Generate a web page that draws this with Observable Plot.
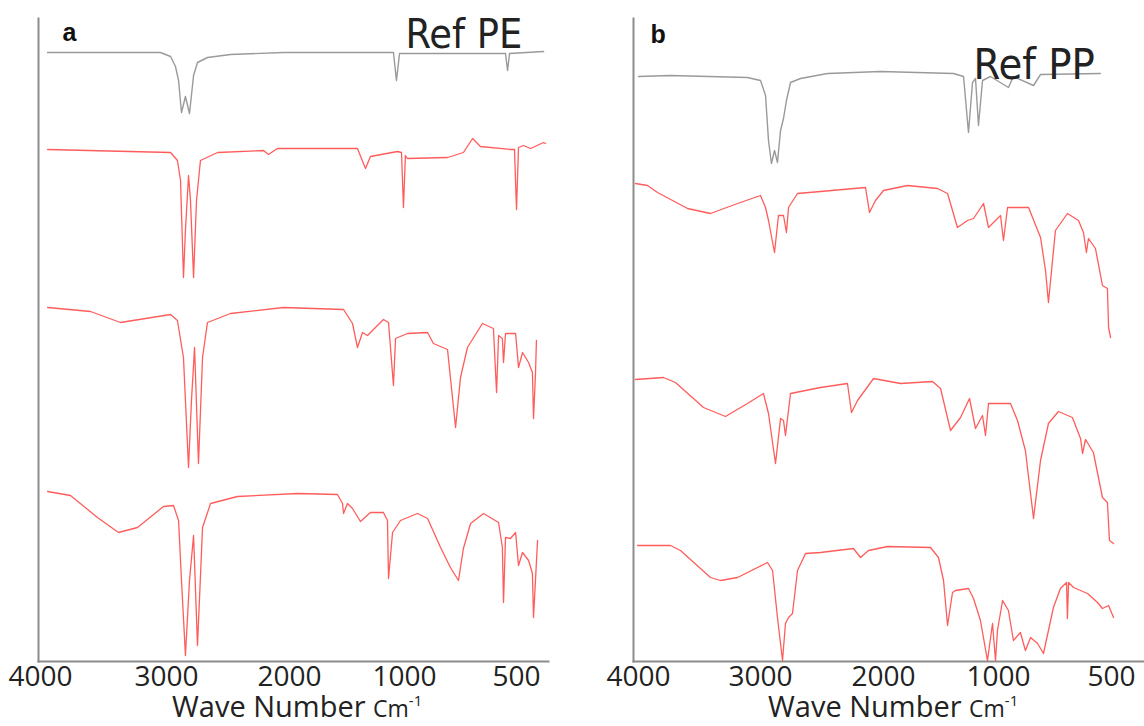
<!DOCTYPE html>
<html><head><meta charset="utf-8">
<script src="https://cdn.jsdelivr.net/npm/d3@7"></script>
<script src="https://cdn.jsdelivr.net/npm/@observablehq/plot@0.6"></script>
<style>
body{margin:0;background:#fff;}
#wrap{display:flex;width:1144px;height:726px;}
.panel{width:572px;height:726px;position:relative;}
.cap{font-family:'Open Sans',sans-serif;font-size:29px;line-height:29px;color:#222;white-space:nowrap;position:absolute;top:691px;}
.cap .u{font-size:23px;}
.cap .s{font-size:15px;position:relative;top:-11px;}
</style></head><body>
<div id="wrap">
  <div class="panel" id="pa"><div class="cap" style="left:172px">Wave Number <span class="u">Cm</span><span class="s">-1</span></div></div>
  <div class="panel" id="pb"><div class="cap" style="left:196px">Wave Number <span class="u">Cm</span><span class="s">-1</span></div></div>
</div>
<script>
// Tick labels of the wave-number axis (cm^-1)
const xTicks = [4000, 3000, 2000, 1000, 500];

// Panel a — polyethylene
const peRefWave = [3944,3048,2967,2927,2902,2878,2846,2813,2780,2748,2667,2480,2049,1096,1070,1043,549,540,531,379];
const peRefT    = [60.9,60.9,60.5,59.5,58.1,54.9,56.5,54.8,58.6,59.9,60.4,60.7,60.9,60.9,58.1,60.8,60.8,59.1,60.8,61.0];

const pe1Wave = [3944,2967,2911,2886,2862,2846,2821,2805,2780,2756,2724,2585,2211,2171,2098,1409,1339,1296,1061,1026,1009,996,987,808,737,696,661,527,509,500,491,469,437,379,370];
const pe1T    = [51.2,50.9,50.1,48.1,38.4,43.1,48.6,46.1,38.4,46.1,50.1,50.9,51.1,50.7,51.3,51.3,49.3,50.5,51.0,50.9,45.4,50.6,50.3,50.4,50.9,52.3,51.5,51.2,51.2,45.2,51.4,51.6,51.3,51.9,51.8];

const pe2Wave = [3944,3603,3365,2967,2911,2862,2821,2797,2772,2740,2707,2667,2480,2049,1530,1452,1409,1365,1322,1183,1139,1096,1078,987,897,871,808,772,750,719,652,603,589,580,563,558,549,504,491,473,446,429,424,415,411];
const pe2T    = [35.4,35.0,33.9,34.7,34.1,30.4,19.4,26.1,31.4,19.8,30.4,33.9,34.8,35.4,35.2,33.8,31.4,32.9,32.6,34.2,33.9,27.6,32.3,32.8,32.9,31.8,31.2,23.4,28.4,31.4,33.8,33.3,26.9,32.6,32.3,29.9,32.8,32.8,29.4,30.9,29.9,28.9,24.3,28.9,32.1];

const pe3Wave = [3944,3762,3548,3381,3230,3024,2943,2902,2878,2846,2813,2780,2748,2707,2642,2423,1930,1583,1539,1530,1496,1452,1383,1296,1183,1148,1139,1104,1035,942,897,839,795,759,737,705,647,580,563,558,549,527,504,491,473,446,429,424,406];
const pe3T    = [17.0,16.6,14.4,12.9,13.4,15.5,15.6,14.1,8.1,0.6,8.1,12.6,1.6,13.4,15.8,16.5,16.8,16.7,15.8,14.8,15.8,15.3,14.0,14.9,14.9,14.1,8.3,12.9,14.1,14.8,14.3,11.4,9.4,8.1,11.3,13.8,14.8,13.9,11.4,5.9,12.4,12.3,12.9,9.6,10.9,10.1,8.8,4.4,12.1];

// Panel b — polypropylene
const ppRefWave = [4000,3738,3107,3000,2959,2935,2911,2886,2862,2837,2813,2789,2756,2675,2455,2024,1391,1304,1261,1226,1200,1174,1139,1070,956,934,845,814,549];
const ppRefT    = [58.5,58.6,58.4,58.1,56.6,52.1,49.8,51.1,49.9,53.1,54.3,56.1,57.9,58.3,58.8,59.0,58.8,58.5,52.9,57.9,58.3,53.6,58.1,58.5,57.4,58.5,57.6,58.7,58.8];

const pp1Wave = [4025,3926,3844,3598,3410,3188,3000,2959,2935,2886,2854,2813,2789,2772,2699,2512,2146,2114,2065,2000,1791,1530,1443,1357,1270,1217,1130,1087,991,978,960,867,814,792,779,761,748,695,646,624,611,602,571,540,518,513,504];
const pp1T    = [47.8,47.6,46.9,45.3,44.8,45.8,46.6,45.4,44.1,40.9,44.6,44.6,42.9,45.4,46.8,47.0,47.4,44.9,46.1,47.1,47.6,47.3,46.8,43.4,44.1,44.3,45.8,43.4,44.6,42.1,45.4,45.4,42.4,39.1,35.9,40.1,43.1,44.8,44.1,42.9,40.9,42.3,41.3,37.6,37.3,33.4,32.4];

const pp2Wave = [4025,3795,3697,3467,3287,3107,2976,2935,2878,2837,2813,2797,2756,2512,2293,2260,2211,2081,1852,1574,1504,1417,1330,1252,1200,1139,1113,1087,947,916,881,845,814,779,735,673,637,628,615,580,540,518,509,491];
const pp2T    = [28.2,28.4,27.9,25.4,24.5,25.8,26.8,24.8,19.8,24.3,24.1,22.6,26.8,27.4,27.8,24.9,26.1,28.3,27.8,28.0,27.3,23.1,24.4,26.3,23.3,24.6,22.6,25.8,25.8,24.1,21.1,14.3,20.1,23.8,25.0,24.4,22.3,20.8,22.2,20.9,16.4,15.9,12.1,11.8];

const pp3Wave = [4008,3738,3656,3410,3328,3188,2943,2902,2862,2821,2797,2772,2740,2699,2634,2512,2244,2187,2122,1965,1591,1522,1478,1443,1400,1374,1261,1217,1157,1096,1052,1026,1009,982,956,934,903,881,858,827,801,779,757,726,699,695,690,668,606,562,540,513,491];
const pp3T    = [11.6,11.6,11.1,8.4,8.1,8.4,9.9,9.1,4.4,0.1,3.8,4.4,4.8,9.1,10.8,10.9,11.3,10.4,11.1,11.5,11.4,10.4,8.1,3.6,6.9,7.1,7.3,6.3,4.1,0.1,3.8,0.1,3.1,6.1,5.1,2.1,2.9,1.1,2.4,1.8,0.8,3.1,5.4,7.3,7.9,4.3,7.9,7.4,6.8,5.9,5.3,5.6,4.4];

const table = (w, t) => w.map((x, i) => ({x, y: t[i]}));

function panel(opts) {
  const W = 572;
  // The printed axis is not uniform: each labelled wave number sits at its own place.
  const warp = d3.scaleLinear().domain(xTicks).range(opts.tickPos);
  const red = {x: "x", y: "y", stroke: "#ff4040", strokeOpacity: 0.85, strokeWidth: 1.3};
  return Plot.plot({
    width: W,
    height: 690,
    marginTop: 18,
    marginBottom: 29,
    marginLeft: opts.marginLeft,
    marginRight: opts.marginRight,
    style: {fontFamily: "'Open Sans', sans-serif", fontSize: "28px", color: "#222", background: "transparent", overflow: "visible"},
    x: {transform: warp, domain: [opts.marginLeft, W - opts.marginRight], axis: null},
    y: {domain: [0, 64.3], axis: null},
    marks: [
      Plot.frame({anchor: "left", stroke: "#8c8c8c", strokeWidth: 2}),
      Plot.frame({anchor: "bottom", stroke: "#8c8c8c", strokeWidth: 2}),
      // tick labels, placed through the x scale
      Plot.text(xTicks, {x: d => d, text: d => String(d), frameAnchor: "bottom", lineAnchor: "top", dy: 5,
        fontSize: 28, fill: "#222"}),
      Plot.line(table(opts.ref[0], opts.ref[1]), {x: "x", y: "y", stroke: "#9a9a9a", strokeWidth: 1.4}),
      ...opts.reds.map(([w, t]) => Plot.line(table(w, t), red)),
      Plot.text([opts.letter], {frameAnchor: "top-left", dx: opts.letterDx, dy: opts.letterDy, textAnchor: "start", lineAnchor: "bottom",
        fontSize: 25, fontWeight: "bold", fontFamily: "'Liberation Sans', Arial, sans-serif", fill: "#111"}),
      Plot.text([opts.refName], {frameAnchor: "top-left", dx: opts.refDx, dy: opts.refDy, textAnchor: "start", lineAnchor: "bottom",
        fontSize: opts.refSize, fontFamily: "'Liberation Sans Narrow', 'DejaVu Sans Condensed', sans-serif", fill: "#222"})
    ]
  });
}

document.getElementById("pa").prepend(panel({
  marginLeft: 38, marginRight: 24, tickPos: [40, 166, 289, 404, 516],
  ref: [peRefWave, peRefT], reds: [[pe1Wave, pe1T], [pe2Wave, pe2T], [pe3Wave, pe3T]],
  letter: "a", letterDx: 24, letterDy: 22, refName: "Ref PE", refDx: 367, refDy: 29, refSize: 41
}));
document.getElementById("pb").prepend(panel({
  marginLeft: 61, marginRight: 0, tickPos: [66, 188, 311, 426, 539],
  ref: [ppRefWave, ppRefT], reds: [[pp1Wave, pp1T], [pp2Wave, pp2T], [pp3Wave, pp3T]],
  letter: "b", letterDx: 17, letterDy: 24, refName: "Ref PP", refDx: 340, refDy: 60, refSize: 43
}));
</script>
</body></html>
